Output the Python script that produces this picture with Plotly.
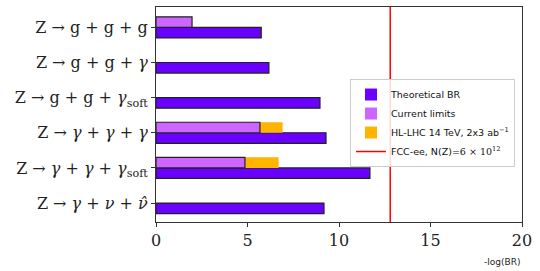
import plotly.graph_objects as go

decays = [
    "Z → g + g + g",
    "Z → g + g + <i>γ</i>",
    "Z → g + g + <i>γ</i><sub>soft</sub>",
    "Z → <i>γ</i> + <i>γ</i> + <i>γ</i>",
    "Z → <i>γ</i> + <i>γ</i> + <i>γ</i><sub>soft</sub>",
    "Z → <i>γ</i> + <i>ν</i> + <i>ν\u0302</i>",
]
theoretical_br = [5.75, 6.17, 8.96, 9.29, 11.69, 9.18]
current_limits = [1.97, None, None, 5.68, 4.86, None]
hllhc_reach = [None, None, None, 6.92, 6.70, None]
fcc_ee_reach = 12.8

x_ticks = [0, 5, 10, 15, 20]

c_theo = "#6a00ff"
c_curr = "#cc66ff"
c_hl = "#ffb400"
edge = "#222222"
serif = "DejaVu Serif, Liberation Serif, serif"
sans = "DejaVu Sans, Liberation Sans, sans-serif"

fig = go.Figure()
fig.add_trace(go.Bar(
    y=decays, x=theoretical_br, orientation="h", name="Theoretical BR",
    width=0.3, offset=0, marker=dict(color=c_theo, line=dict(color=edge, width=1.2)),
    showlegend=False,
))
fig.add_trace(go.Bar(
    y=decays, x=hllhc_reach, orientation="h", name="HL-LHC",
    width=0.3, offset=-0.3, marker=dict(color=c_hl, line=dict(width=0)),
    showlegend=False,
))
fig.add_trace(go.Bar(
    y=decays, x=current_limits, orientation="h", name="Current limits",
    width=0.3, offset=-0.3, marker=dict(color=c_curr, line=dict(color=edge, width=1.2)),
    showlegend=False,
))
fig.add_vline(x=fcc_ee_reach, line=dict(color="#ff0000", width=1.5))

# legend entries (patches without edges, as in the reference)
legend_items = [
    ("Theoretical BR", c_theo),
    ("Current limits", c_curr),
    ("HL-LHC 14 TeV, 2x3 ab<sup>−1</sup>", c_hl),
]
for name, col in legend_items:
    fig.add_trace(go.Bar(
        y=[None], x=[None], orientation="h", name=name,
        marker=dict(color=col, line=dict(width=0)), showlegend=True,
    ))
fig.add_trace(go.Scatter(
    x=[None], y=[None], mode="lines", line=dict(color="#ff0000", width=1.5),
    name="FCC-ee, N(Z)=<span style='font-family:DejaVu Serif'>6 × 10<sup>12</sup></span>",
))

fig.update_layout(
    width=540, height=271,
    margin=dict(l=156, r=18, t=7, b=49),
    barmode="overlay",
    plot_bgcolor="white", paper_bgcolor="white",
    showlegend=True,
    legend=dict(
        x=0.53, y=0.665, xanchor="left", yanchor="top",
        bgcolor="rgba(255,255,255,0.85)", bordercolor="#cccccc", borderwidth=1,
        font=dict(family=sans, size=9.5, color="#111"),
        tracegroupgap=0, itemwidth=30,
    ),
)
fig.update_xaxes(
    range=[0, 20], tickvals=x_ticks, ticktext=[str(v) for v in x_ticks],
    showgrid=False, zeroline=False,
    showline=True, linecolor="#333", linewidth=1, mirror=True,
    ticks="outside", ticklen=4, tickcolor="#333",
    tickfont=dict(family=serif, size=16, color="#222"),
)
fig.update_yaxes(
    type="category", categoryorder="array", categoryarray=decays,
    range=[5.54, -0.58],
    showgrid=False, zeroline=False,
    showline=True, linecolor="#333", linewidth=1, mirror=True,
    ticks="outside", ticklen=4, tickcolor="#333",
    tickfont=dict(family=serif, size=16, color="#222"),
)
fig.add_annotation(
    text="-log(BR)", xref="paper", yref="paper", x=1, y=-0.155,
    xanchor="right", yanchor="top", showarrow=False,
    font=dict(family=sans, size=9, color="#222"),
)

fig.write_html("out.html", config={"displayModeBar": False},
               post_script="document.body.style.margin='0px';")
